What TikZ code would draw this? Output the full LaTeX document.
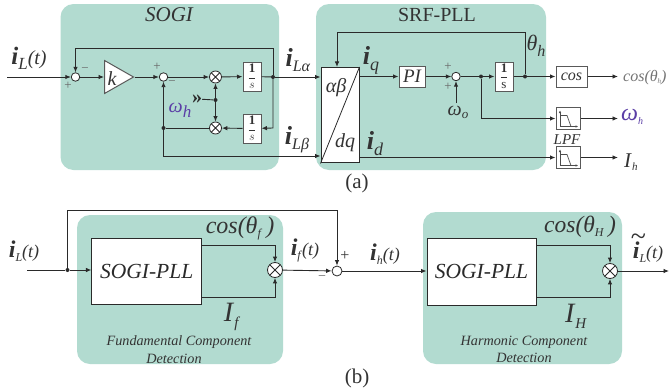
\documentclass[tikz,border=0pt]{standalone}
\usepackage{fontspec}
\setmainfont{Liberation Serif}
\usetikzlibrary{arrows.meta,shapes.geometric}
\definecolor{panel}{HTML}{B2DBD0}
\definecolor{ink}{HTML}{2A2A2A}
\definecolor{txtgray}{HTML}{333333}
\definecolor{omg}{HTML}{5B3EA6}
\newcommand{\fs}[1]{\fontsize{#1}{#1}\selectfont}
\begin{document}
\begin{tikzpicture}[x=1pt,y=-1pt,
  panelbox/.style={fill=panel,rounded corners=13pt},
  wire/.style={draw=ink,line width=.9pt},
  arr/.style={wire,-{Latex[length=5.5pt,width=4.5pt]}},
  sumnode/.style={circle,draw=ink,line width=.8pt,fill=white,minimum size=8.5pt,inner sep=0pt},
  multnode/.style={circle,draw=ink,line width=.8pt,fill=white,minimum size=#1,inner sep=0pt,
    path picture={\draw[ink,line width=.8pt]
      (path picture bounding box.north west)--(path picture bounding box.south east)
      (path picture bounding box.north east)--(path picture bounding box.south west);}},
  multnode/.default=12pt,
  gbox/.style={draw=black!65,line width=1pt,fill=white,inner sep=0pt,text=txtgray},
  fbox/.style={draw=ink,line width=1pt,fill=white,inner sep=0pt,text=ink},
  dotn/.style={circle,fill=ink,minimum size=4pt,inner sep=0pt},
  lab/.style={inner sep=0pt,text=txtgray},
  sgn/.style={inner sep=0pt,text=black!60,font=\fs{13}},
]
\useasboundingbox (0,0) rectangle (669,391);
\fill[white] (0,0) rectangle (669,391);
% panels
\path[panelbox] (60.5,4) rectangle (279,170);
\path[panelbox] (316,4) rectangle (546,170);
\path[panelbox] (77,215) rectangle (283,364);
\path[panelbox] (423,212) rectangle (622,364);
% (a) SOGI nodes
\coordinate (inA) at (7,77);
\node[sumnode] (s1) at (75.5,77) {};
\node[isosceles triangle,isosceles triangle stretches,shape border rotate=0,draw=black!65,line width=1pt,fill=white,
  minimum width=33pt,minimum height=29pt,inner sep=0pt,anchor=lower side] (gain) at (104,77) {};
\node[lab,font=\fs{20}\itshape] (kl) at (112,79) {k};
\node[sumnode] (s2) at (163.5,77) {};
\node[multnode] (m1) at (215.5,77) {};
\node[multnode] (m2) at (215.5,128) {};
\node[gbox,minimum width=18pt,minimum height=29pt] (i1) at (252,76.5) {\fs{13}$\displaystyle\frac{\mathbf{1}}{s}$};
\node[gbox,minimum width=18pt,minimum height=29pt] (i2) at (252,128.5) {\fs{13}$\displaystyle\frac{\mathbf{1}}{s}$};
\node[dotn] (d1) at (273,77) {};
\node[dotn] (d2) at (163.5,128) {};
\node[dotn] (d3) at (215.5,100) {};
\coordinate (cTL) at (75.5,48);
\coordinate (cTR) at (273,48);
\coordinate (cBR) at (273,128);
\coordinate (cBL) at (163.5,156);
\node[inner sep=0pt,font=\fs{20}\bfseries,text=ink] (dbl) at (197,99) {»};
% (a) SRF nodes
\node[fbox,minimum width=38pt,minimum height=95.5pt] (park) at (340,115.2) {};
\node[gbox,minimum width=26pt,minimum height=21pt] (pi) at (412,76.5) {\fs{19}\itshape PI};
\node[sumnode] (s3) at (456,76.5) {};
\node[gbox,minimum width=18pt,minimum height=29pt] (i3) at (504,76.5) {\fs{13}$\displaystyle\frac{\mathbf{1}}{\mathrm{s}}$};
\node[dotn] (d4) at (481,76.5) {};
\node[dotn] (d5) at (525,76.5) {};
\coordinate (omo) at (456,103);
\coordinate (fbR) at (525,32);
\coordinate (fbL) at (337,32);
\coordinate (lp) at (481,118.5);
\node[gbox,minimum width=31pt,minimum height=21pt] (cosb) at (571.5,76.5) {\fs{16}\itshape cos};
\coordinate (outA) at (618,76.5);
\node[gbox,minimum width=24pt,minimum height=21.5pt] (lpf1) at (568,118.5) {};
\node[gbox,minimum width=24pt,minimum height=21.5pt] (lpf2) at (568,157.5) {};
\coordinate (out1) at (618,118.5);
\coordinate (out2) at (618,157.5);
% (a) wires
\draw[arr] (inA)--(s1);
\draw[arr] (s1)--(gain.lower side);
\draw[arr] (gain.apex)--(s2);
\draw[arr] (s2)--(m1);
\draw[arr] (m1)--(i1);
\draw[wire] (i1)--(d1);
\draw[arr] (d1)--(d1-|park.west);
\draw[arr] (d1)--(cTR)--(cTL)--(s1);
\draw[arr] (d1)--(cBR)--(i2);
\draw[arr] (i2)--(m2);
\draw[wire] (m2)--(d2);
\draw[arr] (d2)--(s2);
\draw[arr] (d2)--(cBL)--(cBL-|park.west);
\draw[arr] (d3)--(m1);
\draw[arr] (d3)--(m2);
\draw[wire] (dbl)--(d3);
\draw[arr] (park.east|-pi)--(pi);
\draw[arr] (pi)--(s3);
\draw[arr] (omo)--(s3);
\draw[arr] (s3)--(i3);
\draw[wire] (i3)--(d5);
\draw[arr] (d5)--(cosb);
\draw[arr] (cosb)--(outA);
\draw[arr] (d5)--(fbR)--(fbL)--(fbL|-park.north);
\draw[arr] (d4)--(lp)--(lpf1);
\draw[arr] (lpf1)--(out1);
\draw[arr] (park.east|-lpf2)--(lpf2);
\draw[arr] (lpf2)--(out2);
\draw[ink,line width=.8pt] (park.south west)--(park.north east);
% LPF icons
\foreach \n in {lpf1,lpf2}{
 \begin{scope}[shift={(\n.center)}]
  \draw[black!70,line width=.5pt,-{Latex[length=2.5pt,width=2.5pt]}] (-8,8)--(-8,-8);
  \draw[black!70,line width=.5pt,-{Latex[length=2.5pt,width=2.5pt]}] (-8,8)--(10,8);
  \draw[black!70,line width=.7pt] (-8,-3)--(-1,-3)--(3,8);
 \end{scope}}
% (a) labels
\node[lab,font=\fs{21}\itshape] (t1) at (169,15) {SOGI};
\node[lab,font=\fs{20}] (t2) at (437,15) {SRF-PLL};
\node[lab] (l1) at (29,58) {\fs{25}\textit{\textbf{i}}\raisebox{-5pt}{\fs{17}\textit{L}}\fs{20}\textit{(t)}};
\node[lab] (l2) at (298,60) {\fs{26}\textit{\textbf{i}}\raisebox{-5pt}{\fs{16}\textit{Lα}}};
\node[lab] (l3) at (297,140) {\fs{26}\textit{\textbf{i}}\raisebox{-5pt}{\fs{16}\textit{Lβ}}};
\node[lab,text=omg] (l4) at (180,110) {\fs{20}\textit{ω}\raisebox{-5pt}{\fs{17}\textit{h}}};
\node[sgn] (p1) at (68,86) {+};
\node[sgn] (p2) at (85,70) {−};
\node[sgn] (p3) at (157,67) {+};
\node[sgn] (p4) at (172,83) {−};
\node[lab,font=\fs{20}\itshape] (ab) at (336,88) {αβ};
\node[lab,font=\fs{20}\itshape] (dq) at (345,143) {dq};
\node[lab] (l5) at (371,60) {\fs{26}\textit{\textbf{i}}\raisebox{-6pt}{\fs{18}\textit{q}}};
\node[lab] (l6) at (375,144) {\fs{26}\textit{\textbf{i}}\raisebox{-6pt}{\fs{18}\textit{d}}};
\node[sgn] (p5) at (448,67) {+};
\node[sgn] (p6) at (448,87) {+};
\node[lab] (l7) at (458,112) {\fs{20}\textit{ω}\raisebox{-3pt}{\fs{13}\textit{o}}};
\node[lab] (l8) at (536,46) {\fs{22}\textit{θ}\raisebox{-6pt}{\fs{16}\textit{h}}};
\node[lab,text=black!55,anchor=west] (l9) at (623,78) {\fs{16}\textit{cos(θ}\raisebox{-2pt}{\fs{7}\textit{h}}\textit{)}};
\node[lab,text=omg,anchor=west] (l10) at (621,117) {\fs{24}\textit{ω}\raisebox{-4pt}{\fs{10}\textit{h}}};
\node[lab,font=\fs{15}\itshape] (l11) at (567,140) {LPF};
\node[lab,anchor=west] (l12) at (624,162) {\fs{21}\textit{I}\raisebox{-3pt}{\fs{11}\textit{h}}};
\node[lab,font=\fs{21}] (capa) at (357,183) {(a)};
% (b) nodes
\coordinate (inB) at (27,270);
\node[dotn] (d6) at (67.5,270) {};
\node[fbox,minimum width=109.5pt,minimum height=66pt] (pll1) at (146.7,271) {\fs{21.5}\itshape SOGI-PLL};
\node[multnode=15pt] (m3) at (275,270) {};
\node[sumnode,minimum size=10pt] (s4) at (337,271) {};
\coordinate (t1L) at (67.5,210);
\coordinate (t1R) at (337,210);
\coordinate (u1) at (275,245.5);
\coordinate (u2) at (275,297);
\node[fbox,minimum width=109pt,minimum height=67pt] (pll2) at (481.5,271.5) {\fs{21.5}\itshape SOGI-PLL};
\node[multnode=15pt] (m4) at (610,271) {};
\coordinate (u3) at (610,245.5);
\coordinate (u4) at (610,297);
\coordinate (outB) at (669,271);
% (b) wires
\draw[wire] (inB)--(d6);
\draw[arr] (d6)--(d6-|pll1.west);
\draw[arr] (d6)--(t1L)--(t1R)--(s4);
\draw[arr] (pll1.east|-u1)--(u1)--(m3);
\draw[arr] (pll1.east|-u2)--(u2)--(m3);
\draw[arr] (m3)--(s4);
\draw[arr] (s4)--(s4-|pll2.west);
\draw[arr] (pll2.east|-u3)--(u3)--(m4);
\draw[arr] (pll2.east|-u4)--(u4)--(m4);
\draw[arr] (m4)--(outB);
% (b) labels
\node[lab] (b1) at (24,251) {\fs{24}\textit{\textbf{i}}\raisebox{-4pt}{\fs{12}\textit{L}}\fs{18}\textit{(t)}};
\node[lab] (b2) at (240,228) {\fs{24}\textit{cos(θ}\raisebox{-4pt}{\fs{12}\textit{f}}\textit{\,)}};
\node[lab] (b3) at (305,250) {\fs{24}\textit{\textbf{i}}\raisebox{-4pt}{\fs{12}\textit{f}}\fs{18}\textit{(t)}};
\node[lab] (b4) at (232,317) {\fs{28}\textit{I}\raisebox{-6pt}{\fs{15}\textit{f}}};
\node[sgn,font=\fs{14}] (p7) at (322,278) {−};
\node[sgn,font=\fs{16},text=txtgray] (p8) at (345,256) {+};
\node[lab,font=\fs{14.2}\itshape] (b5) at (179,342) {Fundamental Component};
\node[lab,font=\fs{14.2}\itshape] (b6) at (174,359) {Detection};
\node[lab] (b7) at (385,254) {\fs{24}\textit{\textbf{i}}\raisebox{-4pt}{\fs{12}\textit{h}}\fs{18}\textit{(t)}};
\node[lab] (b8) at (580,227) {\fs{23.5}\textit{cos(θ}\raisebox{-4pt}{\fs{12}\textit{H}}\textit{\,)}};
\node[lab] (b9) at (576,316) {\fs{28}\textit{I}\raisebox{-6pt}{\fs{15}\textit{H}}};
\node[lab,font=\fs{14.2}\itshape] (b10) at (524,342) {Harmonic Component};
\node[lab,font=\fs{14.2}\itshape] (b11) at (524,358) {Detection};
\node[lab] (b12) at (648,252) {\makebox[0pt][l]{\smash{\hspace{-2pt}\raisebox{13pt}{\fs{28}\char"007E}}}\fs{24}\textit{\textbf{i}}\raisebox{-4pt}{\fs{12}\textit{L}}\fs{18}\textit{(t)}};
\node[lab,font=\fs{21}] (capb) at (357,378) {(b)};
\end{tikzpicture}
\end{document}
